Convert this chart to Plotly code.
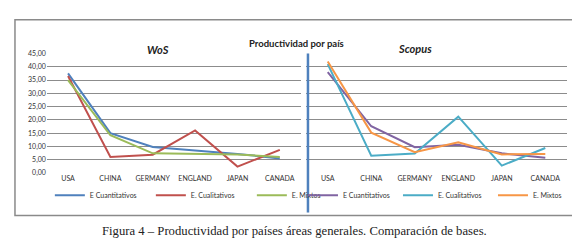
import plotly.graph_objects as go

W, H = 580, 249

categories = ["USA", "CHINA", "GERMANY", "ENGLAND", "JAPAN", "CANADA"]
series_names = ["E Cuantitativos", "E. Cualitativos", "E. Mixtos"]

wos_cuant = [37.5, 15.0, 9.8, 8.6, 7.2, 5.5]
wos_cual = [36.5, 6.0, 6.9, 16.0, 2.4, 8.7]
wos_mix = [35.0, 14.2, 7.4, 7.2, 7.0, 6.0]

sco_cuant = [38.0, 17.6, 9.7, 10.6, 7.4, 5.7]
sco_cual = [41.0, 6.5, 7.3, 21.2, 2.8, 9.4]
sco_mix = [42.0, 15.2, 7.8, 11.6, 7.0, 7.2]

y_ticks = [0, 5, 10, 15, 20, 25, 30, 35, 40, 45]

wos_colors = ["#4F81BD", "#C0504D", "#9BBB59"]
sco_colors = ["#8064A2", "#4BACC6", "#F79646"]


def px(x):
    return x / W


def py(y):
    return 1 - y / H


FONT = "Lato"
fig = go.Figure()

for name, vals, col in zip(series_names, [wos_cuant, wos_cual, wos_mix], wos_colors):
    fig.add_trace(go.Scatter(x=categories, y=vals, name=name, mode="lines",
                             line=dict(color=col, width=2), xaxis="x", yaxis="y",
                             legend="legend"))
for name, vals, col in zip(series_names, [sco_cuant, sco_cual, sco_mix], sco_colors):
    fig.add_trace(go.Scatter(x=categories, y=vals, name=name, mode="lines",
                             line=dict(color=col, width=2), xaxis="x2", yaxis="y2",
                             legend="legend2"))

ydom = [py(166), py(42)]
tickfont = dict(family=FONT, size=7, color="#333333")
legfont = dict(family=FONT, size=7, color="#333333")

fig.update_layout(
    width=W, height=H,
    margin=dict(l=0, r=0, t=0, b=0),
    paper_bgcolor="white", plot_bgcolor="white",
    separators=",.",
    showlegend=True,
    xaxis=dict(domain=[px(39), px(294)], type="category", range=[-0.5, 5.5],
               showgrid=False, zeroline=False, showline=False, ticks="",
               tickfont=tickfont, anchor="y", fixedrange=True),
    yaxis=dict(domain=ydom, range=[0, 45], tickvals=y_ticks, tickformat=".2f",
               showgrid=True, gridcolor="#8C8C8C", gridwidth=1, zeroline=False,
               showline=False, ticks="", tickfont=tickfont, anchor="x"),
    xaxis2=dict(domain=[px(299), px(561)], type="category", range=[-0.5, 5.5],
                showgrid=False, zeroline=False, showline=False, ticks="",
                tickfont=tickfont, anchor="y2"),
    yaxis2=dict(domain=ydom, range=[0, 45], tickvals=y_ticks, showticklabels=False,
                showgrid=True, gridcolor="#8C8C8C", gridwidth=1, zeroline=False,
                showline=False, ticks="", anchor="x2"),
    legend=dict(orientation="h", x=px(42), y=py(189), xanchor="left", yanchor="middle",
                font=legfont, entrywidth=56, itemwidth=30, bgcolor="rgba(0,0,0,0)"),
    legend2=dict(orientation="h", x=px(296), y=py(189), xanchor="left", yanchor="middle",
                 font=legfont, entrywidth=50, itemwidth=30, bgcolor="rgba(0,0,0,0)"),
)

fig.add_shape(type="rect", xref="paper", yref="paper",
              x0=px(7), x1=px(571), y0=py(210), y1=py(7),
              line=dict(color="#8A8A8A", width=1.5))
fig.add_shape(type="line", xref="paper", yref="paper",
              x0=px(301), x1=px(301), y0=py(207), y1=py(42),
              line=dict(color="#4F81BD", width=2.5))

fig.add_annotation(text="<b><i>WoS</i></b>", x=px(137), y=py(29), xref="paper", yref="paper",
                   showarrow=False, font=dict(family=FONT, size=11, color="#222222"))
fig.add_annotation(text="<b>Productividad por país</b>", x=px(289), y=py(24), xref="paper",
                   yref="paper", showarrow=False, font=dict(family=FONT, size=9.5, color="#222222"))
fig.add_annotation(text="<b><i>Scopus</i></b>", x=px(427), y=py(28), xref="paper", yref="paper",
                   showarrow=False, font=dict(family=FONT, size=11, color="#222222"))
fig.add_annotation(text="Figura 4 – Productividad por países áreas generales. Comparación de bases.",
                   x=px(287), y=py(236), xref="paper", yref="paper", showarrow=False,
                   font=dict(family="Liberation Serif", size=12.7, color="#222222"))

fig.write_html("out.html")
